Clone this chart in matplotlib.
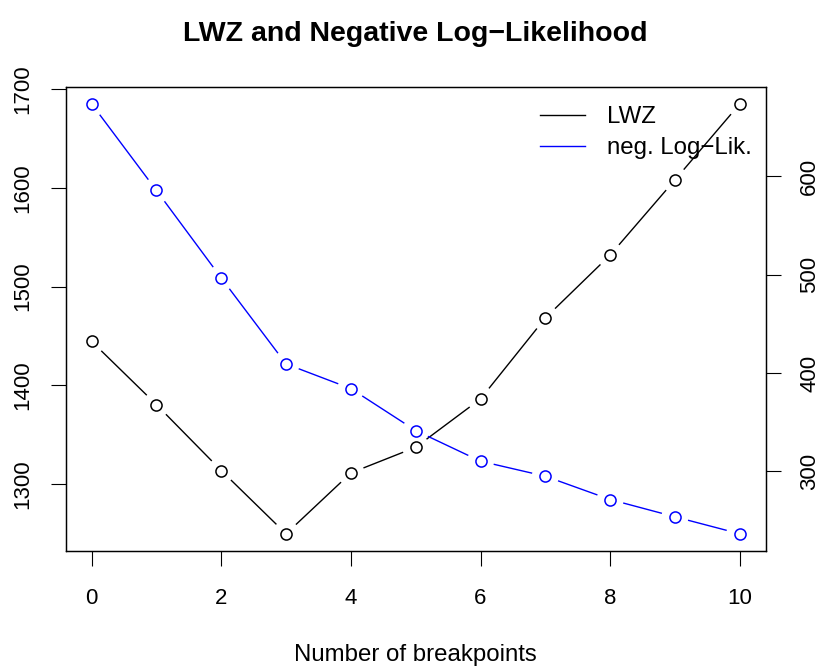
import numpy as np
import matplotlib
matplotlib.use("Agg")
import matplotlib.pyplot as plt
from matplotlib.lines import Line2D

plt.rcParams['font.family'] = ['Liberation Sans', 'DejaVu Sans']

breakpoints = list(range(0, 11))
lwz = [1444.4, 1380.3, 1313.5, 1249.4, 1311.1, 1337.1, 1386.1, 1468.1, 1531.9, 1608.1, 1685.1]
negloglik = [673.9, 585.8, 496.7, 409.2, 384.1, 341.4, 310.2, 294.9, 271.2, 253.6, 236.3]
left_ticks = [1300, 1400, 1500, 1600, 1700]
right_ticks = [300, 400, 500, 600]
x_ticks = [0, 2, 4, 6, 8, 10]

W, H = 822, 669
fig = plt.figure(figsize=(W / 100, H / 100), dpi=100)
L, R, T, B = 65.7, 765.7, 86.7, 551.0
ax = fig.add_axes([L / W, 1 - B / H, (R - L) / W, (B - T) / H])
ax2 = ax.twinx()

def rlim(v):
    lo, hi = min(v), max(v)
    d = (hi - lo) * 0.04
    return lo - d, hi + d

ax.set_xlim(*rlim(breakpoints))
ax.set_ylim(*rlim(lwz))
ax2.set_ylim(*rlim(negloglik))

FS = 16
FT = 17.3
lw = 1.0

def draw_b(a, x, y, color, gap_px=13.5):
    # R type="b": points with line segments that stop short of the points
    pts = a.transData.transform(np.column_stack([x, y]))
    inv = a.transData.inverted()
    for p0, p1 in zip(pts[:-1], pts[1:]):
        d = p1 - p0
        n = np.hypot(*d)
        if n <= 2 * gap_px:
            continue
        u = d / n
        q0 = inv.transform(p0 + u * gap_px)
        q1 = inv.transform(p1 - u * gap_px)
        a.plot([q0[0], q1[0]], [q0[1], q1[1]], color=color, lw=lw, solid_capstyle='butt')
    a.plot(x, y, linestyle='none', marker='o', markersize=8.0, markerfacecolor='none',
           markeredgecolor=color, markeredgewidth=1.1)

draw_b(ax, breakpoints, lwz, 'black')
draw_b(ax2, breakpoints, negloglik, 'blue')

ax.set_xticks(x_ticks)
ax.set_yticks(left_ticks)
ax2.set_yticks(right_ticks)
ax.set_xticklabels([str(t) for t in x_ticks], fontsize=FS)
ax.set_yticklabels([str(t) for t in left_ticks], fontsize=FS, rotation=90, va='center')
ax2.set_yticklabels([str(t) for t in right_ticks], fontsize=FS, rotation=90, va='center')

for a in (ax, ax2):
    a.tick_params(direction='out', length=11, width=0.8, color='black')
    for s in a.spines.values():
        s.set_linewidth(0.9)
ax.tick_params(axis='x', pad=16)
ax.tick_params(axis='y', pad=12.5)
ax2.tick_params(axis='y', pad=13)

ax.set_xlabel('Number of breakpoints', fontsize=FT, labelpad=25)
fig.text(0.5 * (L + R) / W, 1 - 34 / H, 'LWZ and Negative Log\u2212Likelihood',
         ha='center', va='center', fontsize=20.5, fontweight='bold')

handles = [Line2D([], [], color='black', lw=lw), Line2D([], [], color='blue', lw=lw)]
fig.legend(handles, ['LWZ', 'neg. Log\u2212Lik.'], loc='upper left',
           bbox_to_anchor=(540 / W, 1 - 106 / H), bbox_transform=fig.transFigure,
           frameon=False, fontsize=FT, handlelength=1.88, handletextpad=0.9,
           labelspacing=0.38, borderpad=0, borderaxespad=0)

fig.savefig('out.png', dpi=100)
